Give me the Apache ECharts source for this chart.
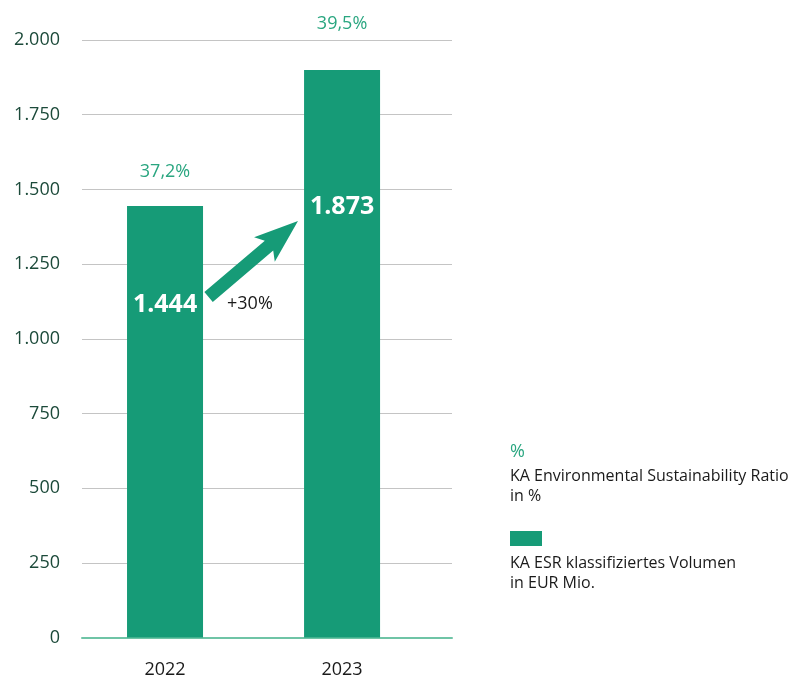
<!DOCTYPE html>
<html><head><meta charset="utf-8">
<script src="https://cdn.jsdelivr.net/npm/echarts@6/dist/echarts.min.js"></script>
<style>html,body{margin:0;padding:0;background:#fff}#c{width:795px;height:690px}</style>
</head><body><div id="c"></div>
<script>
// ---- data ----
const years = ['2022', '2023'];
const volumeBars = [1444, 1900];          // bar heights as drawn
const volumeLabels = ['1.444', '1.873'];  // labels printed in the bars
const ratioLabels = ['37,2%', '39,5%'];   // ESR ratio above bars
const growthLabel = '+30%';
const legendRatio = ['%', 'KA Environmental Sustainability Ratio', 'in %'];
const legendVolume = ['KA ESR klassifiziertes Volumen', 'in EUR Mio.'];
const arrowFrom = [0.246, 1140];
const arrowTo = [0.751, 1394];

// ---- styles ----
const FONT = '"Open Sans", sans-serif';
const GREEN = '#169b77';
const PCT = '#2aa680';
const YLAB = '#1c4a3a';
const TXT = '#1a1a1a';

const fmt = v => String(v).replace(/\B(?=(\d{3})+(?!\d))/g, '.');

const topDist = [25, 37];
const inDist = [86, 124];

const chart = echarts.init(document.getElementById('c'), null, {renderer: 'canvas'});
chart.setOption({
  animation: false,
  textStyle: {fontFamily: FONT},
  grid: {left: 82, right: 343, top: 40, bottom: 52.5},
  xAxis: {
    type: 'value', min: -0.469, max: 1.621,
    splitLine: {show: false},
    axisTick: {show: false},
    axisLine: {show: true, onZero: true, lineStyle: {color: '#6fc4a6', width: 2}},
    axisLabel: {customValues: [0, 1], formatter: v => years[Math.round(v)] || '',
      fontSize: 18, color: TXT, margin: 23, fontFamily: FONT}
  },
  yAxis: {
    type: 'value', min: 0, max: 2000, interval: 250,
    axisLine: {show: false}, axisTick: {show: false},
    splitLine: {lineStyle: {color: '#c4c4c4', width: 1}},
    axisLabel: {formatter: fmt, fontSize: 18, color: YLAB, margin: 22, fontFamily: FONT}
  },
  series: [
    {
      type: 'bar', barWidth: 76,
      itemStyle: {color: GREEN},
      data: volumeBars.map((v, i) => ({
        value: [i, v],
        label: {show: true, position: 'top', distance: topDist[i],
          formatter: ratioLabels[i], color: PCT, fontSize: 18, fontFamily: FONT}
      }))
    },
    {
      type: 'bar', barWidth: 76, barGap: '-100%',
      itemStyle: {color: 'rgba(0,0,0,0)'},
      data: volumeBars.map((v, i) => ({
        value: [i, v],
        label: {show: true, position: 'insideTop', distance: inDist[i],
          formatter: volumeLabels[i], color: '#fff', fontSize: 25, fontWeight: 'bold', fontFamily: FONT}
      }))
    }
  ]
});

// arrow
const p0 = chart.convertToPixel({gridIndex: 0}, arrowFrom);
const p1 = chart.convertToPixel({gridIndex: 0}, arrowTo);
const dx = p1[0] - p0[0], dy = p1[1] - p0[1];
const L = Math.hypot(dx, dy);
const u = [dx / L, dy / L], n = [-u[1], u[0]];
const sw = 6.5, hl = 44, hw = 16, notch = 38;
const P = (a, b) => [p1[0] + u[0] * a + n[0] * b, p1[1] + u[1] * a + n[1] * b];
const pts = [
  P(-L, -sw), P(-notch, -sw), P(-hl, -hw), P(0, 0), P(-hl, hw), P(-notch, sw), P(-L, sw)
];

chart.setOption({
  graphic: [
    {type: 'polygon', shape: {points: pts}, style: {fill: GREEN}},
    {type: 'text', x: 227, y: 304, style: {text: growthLabel, font: '18px ' + FONT, fill: TXT, textVerticalAlign: 'middle'}},
    {type: 'text', x: 510, y: 452, style: {text: legendRatio[0], font: '18px ' + FONT, fill: PCT, textVerticalAlign: 'middle'}},
    {type: 'text', x: 510, y: 476, style: {text: legendRatio[1], font: '16px ' + FONT, fill: TXT, textVerticalAlign: 'middle'}},
    {type: 'text', x: 510, y: 496, style: {text: legendRatio[2], font: '16px ' + FONT, fill: TXT, textVerticalAlign: 'middle'}},
    {type: 'rect', shape: {x: 510, y: 531, width: 32, height: 15}, style: {fill: GREEN}},
    {type: 'text', x: 510, y: 563, style: {text: legendVolume[0], font: '16px ' + FONT, fill: TXT, textVerticalAlign: 'middle'}},
    {type: 'text', x: 510, y: 583, style: {text: legendVolume[1], font: '16px ' + FONT, fill: TXT, textVerticalAlign: 'middle'}}
  ]
});
</script></body></html>
